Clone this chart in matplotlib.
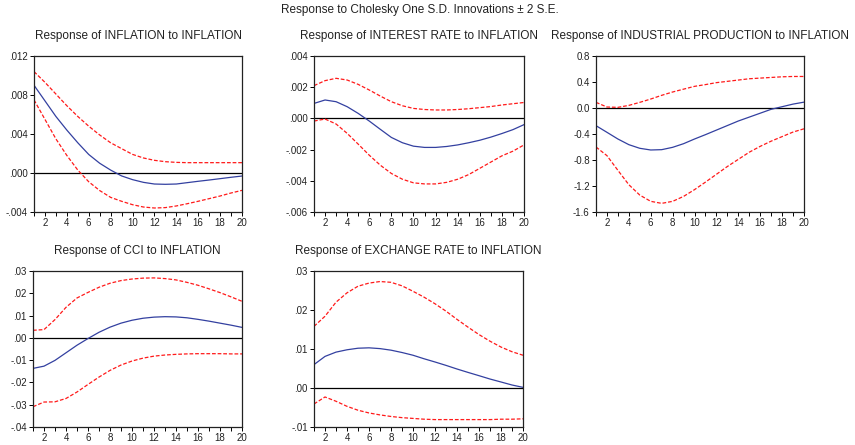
import numpy as np
import matplotlib
matplotlib.use("Agg")
import matplotlib.pyplot as plt

plt.rcParams['font.family'] = ['Liberation Sans', 'DejaVu Sans']

periods = np.arange(1, 21)

# Response of INFLATION to INFLATION
infl_mid = [0.0090, 0.0074, 0.0058, 0.0044, 0.0031, 0.0019, 0.0010, 0.0003, -0.0003, -0.00068,
            -0.00096, -0.00113, -0.00116, -0.00113, -0.00099, -0.00085, -0.00072, -0.00058, -0.00044, -0.00031]
infl_up = [0.0104, 0.0093, 0.0081, 0.0069, 0.0058, 0.0048, 0.0039, 0.0031, 0.0025, 0.00191,
           0.00154, 0.0013, 0.00116, 0.00109, 0.00106, 0.00106, 0.00106, 0.00106, 0.00106, 0.00106]
infl_lo = [0.0075, 0.0055, 0.0035, 0.0018, 0.0003, -0.0009, -0.0018, -0.0025, -0.0029, -0.00325,
           -0.00349, -0.00359, -0.00355, -0.00338, -0.00315, -0.0029, -0.00263, -0.00236, -0.00205, -0.00178]

# Response of INTEREST RATE to INFLATION
rate_mid = [0.00096, 0.00118, 0.00107, 0.00075, 0.00032, -0.00017, -0.0007, -0.00122, -0.00156, -0.00178,
            -0.00186, -0.00186, -0.0018, -0.0017, -0.00156, -0.0014, -0.0012, -0.00097, -0.00072, -0.0004]
rate_up = [0.0021, 0.00242, 0.00257, 0.00246, 0.00218, 0.00182, 0.00143, 0.00107, 0.00081, 0.00064,
           0.00057, 0.00054, 0.00054, 0.00057, 0.00062, 0.00069, 0.00076, 0.00086, 0.00094, 0.00102]
rate_lo = [-0.00017, -0.00004, -0.00036, -0.00096, -0.00165, -0.00236, -0.0030, -0.00353, -0.0039, -0.00413,
           -0.0042, -0.0042, -0.0041, -0.0039, -0.0036, -0.0032, -0.0028, -0.0024, -0.0021, -0.0017]

# Response of INDUSTRIAL PRODUCTION to INFLATION
ip_mid = [-0.272, -0.374, -0.477, -0.564, -0.62, -0.646, -0.641, -0.605, -0.549, -0.477,
          -0.41, -0.34, -0.27, -0.20, -0.14, -0.08, -0.02, 0.02, 0.06, 0.09]
ip_up = [0.087, 0.015, 0.01, 0.04, 0.087, 0.138, 0.195, 0.246, 0.29, 0.333,
         0.36, 0.39, 0.41, 0.43, 0.45, 0.46, 0.47, 0.48, 0.485, 0.485]
ip_lo = [-0.60, -0.733, -0.959, -1.18, -1.34, -1.436, -1.467, -1.436, -1.36, -1.256,
         -1.14, -1.02, -0.90, -0.79, -0.68, -0.59, -0.51, -0.44, -0.37, -0.32]

# Response of CCI to INFLATION
cci_mid = [-0.0137, -0.0127, -0.0101, -0.0067, -0.0033, -0.0003, 0.0025, 0.0048, 0.0066, 0.0079,
           0.0088, 0.0093, 0.0095, 0.0094, 0.0090, 0.0083, 0.0075, 0.0066, 0.0057, 0.0047]
cci_up = [0.0034, 0.0037, 0.0082, 0.0137, 0.0179, 0.0204, 0.0227, 0.0245, 0.0257, 0.0264,
          0.0268, 0.0269, 0.0266, 0.0260, 0.0249, 0.0236, 0.0220, 0.0203, 0.0184, 0.0164]
cci_lo = [-0.0309, -0.0288, -0.0287, -0.0272, -0.0243, -0.0209, -0.0176, -0.0146, -0.0122, -0.0104,
          -0.0091, -0.0082, -0.0077, -0.0074, -0.0072, -0.0071, -0.0071, -0.0071, -0.0072, -0.0072]

# Response of EXCHANGE RATE to INFLATION
fx_mid = [0.0060, 0.0081, 0.0092, 0.0098, 0.0102, 0.0103, 0.0101, 0.0097, 0.0091, 0.0084,
          0.0075, 0.00667, 0.0058, 0.00487, 0.0040, 0.00316, 0.0023, 0.00154, 0.00077, 0.00017]
fx_up = [0.0158, 0.0184, 0.0220, 0.0244, 0.0261, 0.0269, 0.0273, 0.0271, 0.0262, 0.0248,
         0.0233, 0.0216, 0.0197, 0.0176, 0.0156, 0.0137, 0.0120, 0.0105, 0.0093, 0.0084]
fx_lo = [-0.0041, -0.0023, -0.0034, -0.0047, -0.0057, -0.0064, -0.0069, -0.0073, -0.0076, -0.0078,
         -0.0080, -0.0081, -0.0081, -0.0081, -0.0081, -0.0081, -0.0081, -0.0080, -0.0080, -0.0079]

titles = ["Response of INFLATION to INFLATION",
          "Response of INTEREST RATE to INFLATION",
          "Response of INDUSTRIAL PRODUCTION to INFLATION",
          "Response of CCI to INFLATION",
          "Response of EXCHANGE RATE to INFLATION"]

yticks = [[-0.004, 0.0, 0.004, 0.008, 0.012],
          [-0.006, -0.004, -0.002, 0.0, 0.002, 0.004],
          [-1.6, -1.2, -0.8, -0.4, 0.0, 0.4, 0.8],
          [-0.04, -0.03, -0.02, -0.01, 0.0, 0.01, 0.02, 0.03],
          [-0.01, 0.0, 0.01, 0.02, 0.03]]
ylabels = [["-.004", ".000", ".004", ".008", ".012"],
           ["-.006", "-.004", "-.002", ".000", ".002", ".004"],
           ["-1.6", "-1.2", "-0.8", "-0.4", "0.0", "0.4", "0.8"],
           ["-.04", "-.03", "-.02", "-.01", ".00", ".01", ".02", ".03"],
           ["-.01", ".00", ".01", ".02", ".03"]]

series = [(infl_mid, infl_up, infl_lo),
          (rate_mid, rate_up, rate_lo),
          (ip_mid, ip_up, ip_lo),
          (cci_mid, cci_up, cci_lo),
          (fx_mid, fx_up, fx_lo)]

W, H = 855, 445
# axes boxes in pixels: left, top, right, bottom
boxes = [(34, 56, 242, 212),
         (314, 56, 524, 212),
         (596, 56, 804, 212),
         (33, 271, 242, 427),
         (314, 271, 523, 427)]

fig = plt.figure(figsize=(W / 100, H / 100), dpi=100)
fig.text(420 / W, 1 - 10 / H, "Response to Cholesky One S.D. Innovations \u00b1 2 S.E.",
         ha="center", va="center", fontsize=8.5, color="#222222")

for i in range(5):
    l, t, r, b = boxes[i]
    ax = fig.add_axes([l / W, 1 - b / H, (r - l) / W, (b - t) / H])
    mid, up, lo = series[i]
    ax.axhline(0, color="black", lw=0.9)
    ax.plot(periods, up, color="#ff1a1a", lw=0.9, ls=(0, (3, 1.5)))
    ax.plot(periods, lo, color="#ff1a1a", lw=0.9, ls=(0, (3, 1.5)))
    ax.plot(periods, mid, color="#3340a0", lw=0.9)
    ax.set_xlim(1, 20)
    ax.set_ylim(yticks[i][0], yticks[i][-1])
    ax.set_xticks(range(2, 21, 2))
    ax.set_xticks(range(1, 21), minor=True)
    ax.set_yticks(yticks[i])
    ax.set_yticklabels(ylabels[i])
    ax.tick_params(axis="both", which="both", direction="out", labelsize=7, pad=1.5,
                   top=False, right=False, width=0.7, length=3, labelcolor="#222222")
    ax.tick_params(axis="x", which="minor", length=3)
    for s in ax.spines.values():
        s.set_linewidth(0.9)
        s.set_color("#222222")
    ax.set_title(titles[i], fontsize=8.5, pad=12, color="#222222")

fig.savefig("out.png", dpi=100)
